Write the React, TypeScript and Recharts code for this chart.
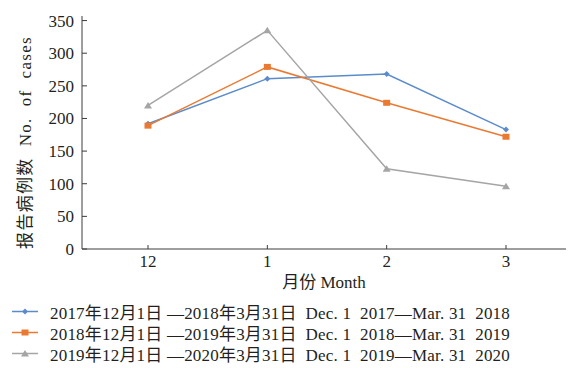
import React from 'react';
import { LineChart, Line, XAxis, YAxis, Legend } from 'recharts';

const months = ['12', '1', '2', '3'];
const season2018 = [192, 261, 268, 183];
const season2019 = [189, 279, 224, 172];
const season2020 = [220, 335, 123, 96];
const yTicks = [0, 50, 100, 150, 200, 250, 300, 350];

const FONT = "'Liberation Serif', 'Noto Sans CJK SC', serif";
const TEXT = '#231f20';
const AXIS = '#3c3c3c';

const seriesList = [
  { key: 's2018', color: '#5b8bcb', shape: 'diamond', label: '2017年12月1日 —2018年3月31日  Dec. 1  2017—Mar. 31  2018' },
  { key: 's2019', color: '#ea7a32', shape: 'square', label: '2018年12月1日 —2019年3月31日  Dec. 1  2018—Mar. 31  2019' },
  { key: 's2020', color: '#a5a5a5', shape: 'triangle', label: '2019年12月1日 —2020年3月31日  Dec. 1  2019—Mar. 31  2020' },
];

const data = months.map((m, i) => ({
  month: m,
  s2018: season2018[i],
  s2019: season2019[i],
  s2020: season2020[i],
}));

const Marker = ({ cx, cy, shape, color }: any) => {
  if (cx == null || cy == null) return null;
  if (shape === 'diamond') {
    return <path d={`M${cx},${cy - 3}L${cx + 3},${cy}L${cx},${cy + 3}L${cx - 3},${cy}Z`} fill={color} />;
  }
  if (shape === 'square') {
    return <rect x={cx - 3.5} y={cy - 3} width={7} height={6} fill={color} />;
  }
  return <path d={`M${cx},${cy - 3.5}L${cx + 4},${cy + 3}L${cx - 4},${cy + 3}Z`} fill={color} />;
};

const X_MARGIN = 8;
const XTick = ({ x, y, payload }: any) => (
  <g>
    <line x1={x} x2={x} y1={y - X_MARGIN} y2={y - X_MARGIN - 4} stroke={AXIS} />
    <text x={x} y={y + 10} textAnchor="middle" fontSize={17} fill={TEXT} fontFamily={FONT}>
      {payload.value}
    </text>
  </g>
);

const Y_MARGIN = 8;
const YTick = ({ x, y, payload }: any) => (
  <g>
    <line x1={x + Y_MARGIN} x2={x + Y_MARGIN + 5} y1={y} y2={y} stroke={AXIS} />
    <text x={x} y={y + 6} textAnchor="end" fontSize={17} fill={TEXT} fontFamily={FONT}>
      {payload.value}
    </text>
  </g>
);

const YLabel = ({ viewBox }: any) => {
  const cx = viewBox.x + 17;
  const cy = viewBox.y + viewBox.height / 2 + 10;
  return (
    <text
      x={cx}
      y={cy}
      transform={`rotate(-90, ${cx}, ${cy})`}
      textAnchor="middle"
      dominantBaseline="central"
      fontSize={17}
      letterSpacing={1.3}
      fill={TEXT}
      fontFamily={FONT}
      style={{ whiteSpace: 'pre' }}
    >
      {'报告病例数  No.  of  cases'}
    </text>
  );
};

const LegendBox = () => (
  <div style={{ fontFamily: FONT, fontSize: 17, color: TEXT, letterSpacing: 0.2 }}>
    {seriesList.map((s) => (
      <div key={s.key} style={{ display: 'flex', alignItems: 'center', height: 21, whiteSpace: 'pre' }}>
        <svg width={28} height={21} style={{ marginRight: 12 }}>
          <line x1={2} x2={28} y1={10.5} y2={10.5} stroke={s.color} strokeWidth={1.5} />
          <Marker cx={15} cy={10.5} shape={s.shape} color={s.color} />
        </svg>
        <span>{s.label}</span>
      </div>
    ))}
  </div>
);

export default function App() {
  return (
    <div style={{ position: 'absolute', left: 0, top: 0, width: 575, height: 368, background: '#fff' }}>
      <LineChart width={575} height={368} data={data} margin={{ top: 16, right: 9, bottom: 79, left: 8 }}>
        <XAxis
          dataKey="month"
          height={40}
          padding={{ left: 66, right: 60 }}
          tickSize={0}
          tickMargin={X_MARGIN}
          tickLine={false}
          axisLine={{ stroke: AXIS }}
          tick={<XTick />}
          label={{ value: '月份  Month', position: 'insideBottom', offset: 1, fontSize: 17, fill: TEXT, fontFamily: FONT, style: { whiteSpace: 'pre' } }}
        />
        <YAxis
          width={74}
          domain={[0, 357]}
          ticks={yTicks}
          interval={0}
          tickSize={0}
          tickMargin={Y_MARGIN}
          tickLine={false}
          axisLine={{ stroke: AXIS }}
          tick={<YTick />}
          label={<YLabel />}
        />
        <Legend
          layout="horizontal"
          verticalAlign="middle"
          align="center"
          content={<LegendBox />}
          wrapperStyle={{ top: 301, left: 10, width: 'auto', height: 'auto' }}
        />
        {seriesList.map((s) => (
          <Line
            key={s.key}
            dataKey={s.key}
            type="linear"
            stroke={s.color}
            strokeWidth={1.5}
            dot={(p: any) => <Marker key={`${s.key}-${p.index}`} cx={p.cx} cy={p.cy} shape={s.shape} color={s.color} />}
            activeDot={false}
            isAnimationActive={false}
          />
        ))}
      </LineChart>
    </div>
  );
}
